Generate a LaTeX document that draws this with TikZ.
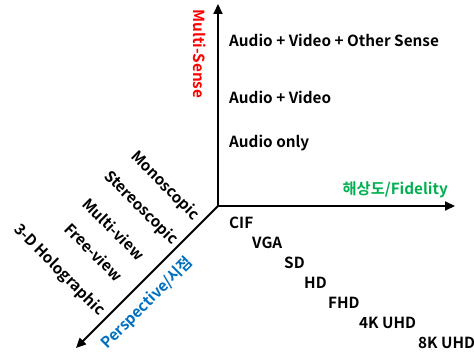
\documentclass[tikz,border=0pt]{standalone}
\usepackage{fontspec}
\setmainfont{Noto Sans CJK KR}[BoldFont={Noto Sans CJK KR Bold}]
\usetikzlibrary{arrows.meta}
\definecolor{msred}{HTML}{FF0000}
\definecolor{fidgreen}{HTML}{00B050}
\definecolor{perblue}{HTML}{0070C0}
\tikzset{
  txt/.style={font=\bfseries\fontsize{15.3}{17}\selectfont,inner sep=0pt},
  axis/.style={line width=2pt,-{Triangle[length=10pt,width=9pt]}},
  lbl/.style={txt,anchor=west},
  dlbl/.style={txt,rotate=-45},
}
\begin{document}
\begin{tikzpicture}[x=1pt,y=-1pt]
\useasboundingbox (0,0) rectangle (474,352);
\coordinate (O) at (218,206);
\coordinate (Ytop) at (218,4);
\coordinate (Xend) at (455,206);
\coordinate (Zend) at (76,348);
\draw[axis] (O) -- (Ytop);
\draw[axis] (O) -- (Xend);
\draw[axis] (O) -- (Zend);
\node[lbl] (avo) at (229,40) {Audio + Video + Other Sense};
\node[lbl] (av) at (229,97) {Audio + Video};
\node[lbl] (ao) at (229,143) {Audio only};
\node[txt,rotate=-90,text=msred] (ms) at (200,54) {Multi-Sense};
\node[txt,anchor=east,text=fidgreen] (fid) at (448,190) {해상도/Fidelity};
\node[lbl] (cif) at (229,223) {CIF};
\node[lbl] (vga) at (252,243) {VGA};
\node[lbl] (sd) at (284,263) {SD};
\node[lbl] (hd) at (304,283) {HD};
\node[lbl] (fhd) at (328,303) {FHD};
\node[lbl] (k4) at (359,323) {4K UHD};
\node[lbl] (k8) at (418,343) {8K UHD};
\node[dlbl] (mono) at (165,186) {Monoscopic};
\node[dlbl] (stereo) at (141,208) {Stereoscopic};
\node[dlbl] (multi) at (114,229) {Multi-view};
\node[dlbl] (free) at (94,252) {Free-view};
\node[dlbl] (holo) at (59,270) {3-D Holographic};
\node[txt,rotate=45,text=perblue] (per) at (147,303) {Perspective/시점};
\end{tikzpicture}
\end{document}
